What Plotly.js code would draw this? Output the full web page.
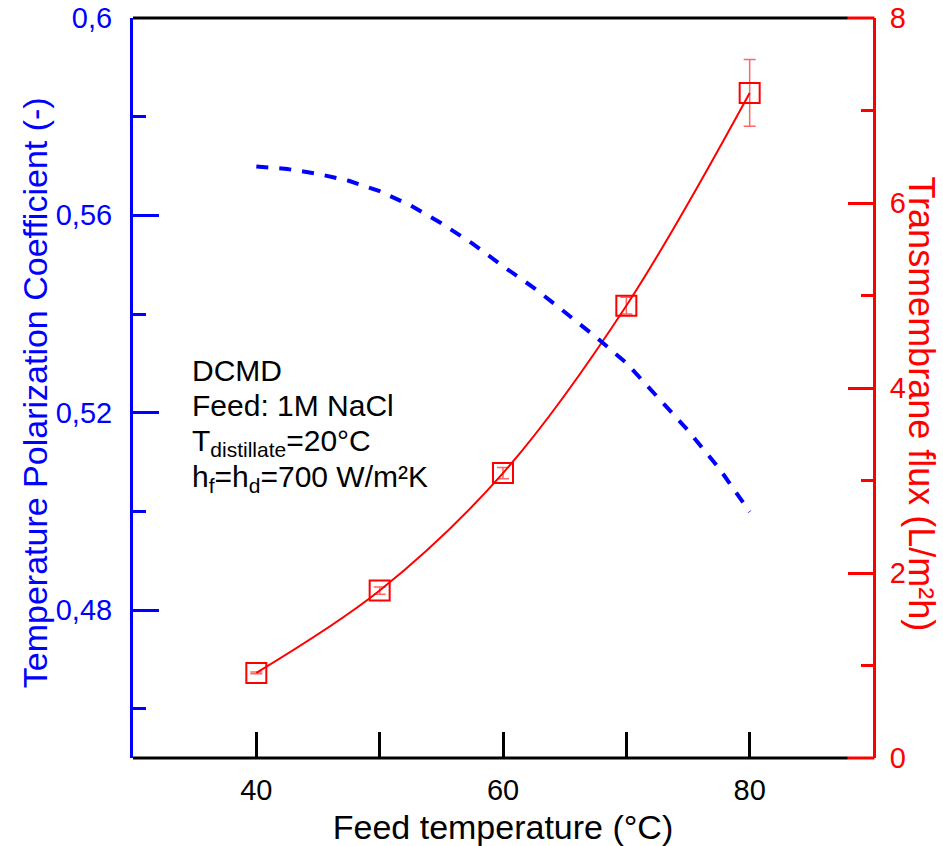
<!DOCTYPE html>
<html>
<head>
<meta charset="utf-8">
<script src="https://cdn.plot.ly/plotly-3.0.1.min.js"></script>
<style>html,body{margin:0;padding:0;background:#fff;}#chart{width:943px;height:846px;}</style>
</head>
<body>
<div id="chart"></div>
<script>
// Feed temperature (°C) for the measured flux
const feedTemp = [40, 50, 60, 70, 80];
// Transmembrane flux (L/m²h) and its error
const flux = [0.92, 1.81, 3.08, 4.89, 7.19];
const fluxErr = [0.01, 0.04, 0.06, 0.09, 0.36];
// Temperature polarization coefficient (-) curve
const tpcTemp = [40, 42.5, 45, 47.5, 50, 52.5, 55, 57.5, 60, 62.5, 65, 67.5, 70, 72.5, 75, 77.5, 80];
const tpc = [0.5699, 0.5694, 0.5684, 0.5670, 0.5649, 0.5620, 0.5584, 0.5543, 0.5497, 0.5453, 0.5404, 0.5354, 0.5301, 0.5233, 0.5164, 0.5088, 0.4999];
// Tick labels
const xTickVals = [40, 60, 80];
const xMinorVals = [50, 70];
const tpcTickVals = [0.48, 0.52, 0.56, 0.6];
const tpcTickText = ['0,48', '0,52', '0,56', '0,6'];
const tpcMinorVals = [0.46, 0.50, 0.54, 0.58];
const fluxTickVals = [0, 2, 4, 6, 8];
const fluxMinorVals = [1, 3, 5, 7];

const FONT = 'Liberation Sans, Arial, sans-serif';
const RED = '#ff0000';
const BLUE = '#0000ff';

const traces = [
  {
    x: feedTemp, y: flux, yaxis: 'y', mode: 'lines',
    line: {color: RED, width: 2, shape: 'spline', smoothing: 1},
    hoverinfo: 'skip'
  },
  {
    x: feedTemp, y: flux, yaxis: 'y', mode: 'markers',
    marker: {symbol: 'square-open', size: 20, color: RED, line: {color: RED, width: 2}},
    error_y: {type: 'data', array: fluxErr, visible: true, color: 'rgba(255,0,0,0.6)', thickness: 1.5, width: 6}
  },
  {
    x: tpcTemp, y: tpc, yaxis: 'y2', mode: 'lines',
    line: {color: BLUE, width: 4, dash: '12px,11px'}
  }
];

const layout = {
  width: 943, height: 846,
  margin: {l: 133, r: 70, t: 18, b: 88},
  paper_bgcolor: '#fff', plot_bgcolor: '#fff',
  showlegend: false,
  separators: ',.',
  font: {family: FONT, size: 29, color: '#000'},
  xaxis: {
    range: [30, 90], showgrid: false, zeroline: false, showline: false,
    tickmode: 'array', tickvals: xTickVals,
    ticks: 'inside', ticklen: 26, tickwidth: 3, tickcolor: '#000',
    minor: {tickmode: 'array', tickvals: xMinorVals, ticks: 'inside', ticklen: 26, tickwidth: 3, tickcolor: '#000', showgrid: false},
    tickfont: {family: FONT, size: 29, color: '#000'},
    ticklabelstandoff: 12,
    title: {text: 'Feed temperature (°C)', font: {family: FONT, size: 34, color: '#000'}, standoff: 10}
  },
  yaxis: {
    side: 'right', range: [0, 8], showgrid: false, zeroline: false,
    showline: true, linecolor: RED, linewidth: 3,
    tickmode: 'array', tickvals: fluxTickVals,
    ticks: 'inside', ticklen: 25, tickwidth: 3, tickcolor: RED,
    minor: {tickmode: 'array', tickvals: fluxMinorVals, ticks: 'inside', ticklen: 12, tickwidth: 3, tickcolor: RED, showgrid: false},
    tickfont: {family: FONT, size: 29, color: RED},
    ticklabelstandoff: 8
  },
  yaxis2: {
    side: 'left', overlaying: 'y', range: [0.45, 0.6], showgrid: false, zeroline: false,
    showline: true, linecolor: BLUE, linewidth: 3,
    tickmode: 'array', tickvals: tpcTickVals, ticktext: tpcTickText,
    ticks: 'inside', ticklen: 26, tickwidth: 3, tickcolor: BLUE,
    minor: {tickmode: 'array', tickvals: tpcMinorVals, ticks: 'inside', ticklen: 13, tickwidth: 3, tickcolor: BLUE, showgrid: false},
    tickfont: {family: FONT, size: 29, color: BLUE},
    ticklabelstandoff: 12
  },
  shapes: [
    {type: 'line', xref: 'paper', yref: 'paper', x0: 0, x1: 0.966, y0: 0, y1: 0, line: {color: '#000', width: 3}, layer: 'above'},
    {type: 'line', xref: 'paper', yref: 'paper', x0: 0.966, x1: 1.002, y0: 0, y1: 0, line: {color: RED, width: 3}, layer: 'above'},
    {type: 'line', xref: 'paper', yref: 'paper', x0: 0, x1: 0.966, y0: 1, y1: 1, line: {color: '#000', width: 3}, layer: 'above'},
    {type: 'line', xref: 'paper', yref: 'paper', x0: 0.966, x1: 1.002, y0: 1, y1: 1, line: {color: RED, width: 3}, layer: 'above'}
  ],
  annotations: [
    {text: 'Temperature Polarization Coefficient (-)', xref: 'paper', yref: 'paper', x: -0.1324, y: 0.493,
     xanchor: 'center', yanchor: 'middle', textangle: -90, showarrow: false,
     font: {family: FONT, size: 34, color: BLUE}},
    {text: 'Transmembrane flux (L/m²h)', xref: 'paper', yref: 'paper', x: 1.066, y: 0.478,
     xanchor: 'center', yanchor: 'middle', textangle: 90, showarrow: false,
     font: {family: FONT, size: 36, color: RED}},
    {text: 'DCMD', xref: 'paper', yref: 'paper', x: 0.077, y: 0.524, xanchor: 'left', yanchor: 'middle', showarrow: false,
     font: {family: FONT, size: 30, color: '#000'}},
    {text: 'Feed: 1M NaCl', xref: 'paper', yref: 'paper', x: 0.077, y: 0.477, xanchor: 'left', yanchor: 'middle', showarrow: false,
     font: {family: FONT, size: 30, color: '#000'}},
    {text: 'T<sub>distillate</sub>=20°C', xref: 'paper', yref: 'paper', x: 0.077, y: 0.427, xanchor: 'left', yanchor: 'middle', showarrow: false,
     font: {family: FONT, size: 30, color: '#000'}},
    {text: 'h<sub>f</sub>=h<sub>d</sub>=700 W/m²K', xref: 'paper', yref: 'paper', x: 0.077, y: 0.378, xanchor: 'left', yanchor: 'middle', showarrow: false,
     font: {family: FONT, size: 30, color: '#000'}}
  ]
};

Plotly.newPlot('chart', traces, layout, {displayModeBar: false, staticPlot: true});
</script>
</body>
</html>
